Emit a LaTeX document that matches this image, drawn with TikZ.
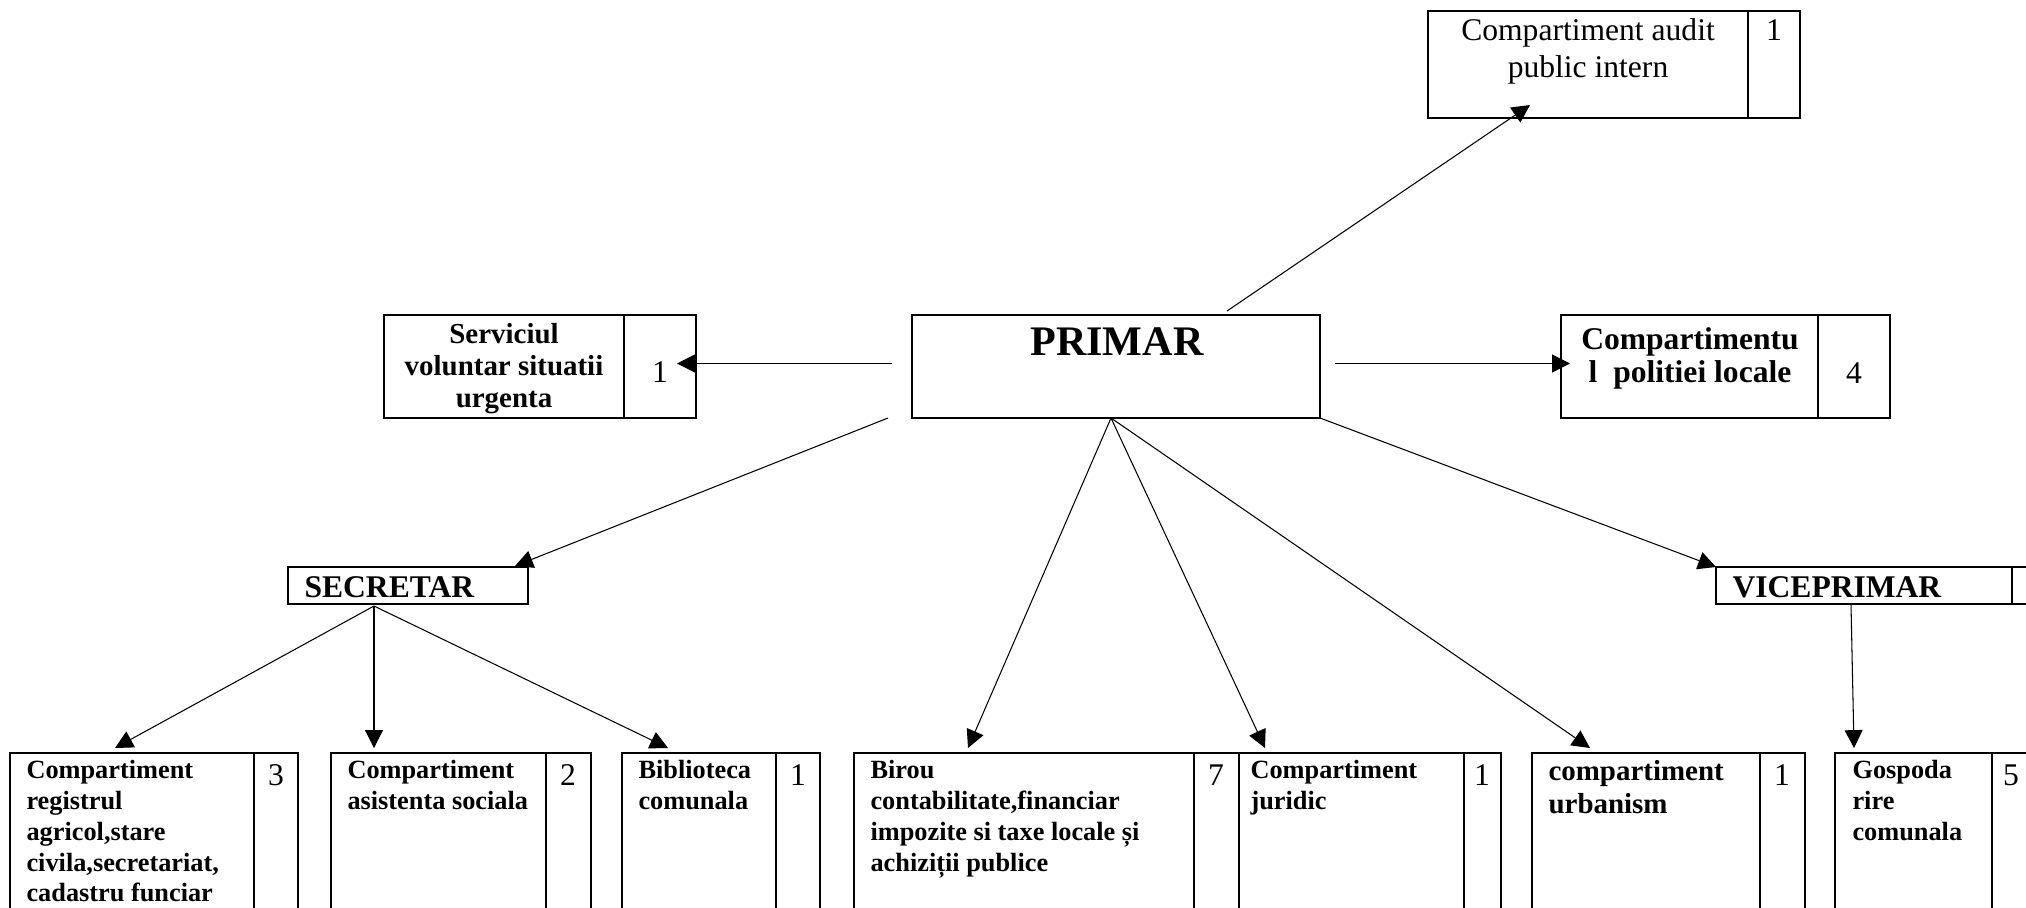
\documentclass[tikz,border=0pt]{standalone}
\usepackage{fontspec}
\setmainfont{Liberation Serif}
\usetikzlibrary{arrows.meta}
\tikzset{
	box/.style={draw, line width=0.5pt, inner sep=0pt, outer sep=0pt, anchor=north west},
	wh/.style 2 args={minimum width=#1*0.38pt, minimum height=#2*0.38pt},
	txt/.style={inner sep=0pt, font=\bfseries\fontsize{10}{11.7}\selectfont, align=left, anchor=north west},
	ctxt/.style={inner sep=0pt, align=center, anchor=north},
	nr/.style={inner sep=0pt, font=\fontsize{12}{14}\selectfont, anchor=base},
	head/.style={inner sep=0pt, font=\bfseries\fontsize{12}{14}\selectfont, anchor=base west},
	link/.style={-{Triangle[length=6.8pt,width=6.8pt]}, line width=0.4pt}
}

\begin{document}
\begin{tikzpicture}[x=0.38pt, y=-0.38pt]
	\useasboundingbox (0,0) rectangle (2026,907);
	\clip (0,0) rectangle (2026,907);

	% audit
	\node[box, wh={320}{107}] (audit) at (1428,11) {};
	\node[box, wh={52}{107}] (auditnr) at (1748,11) {};
	\node[ctxt, font=\fontsize{12}{14}\selectfont] (audittxt) at (1588,18) {Compartiment audit\\public intern};
	\node[nr] (auditn) at (1774,40) {1};

	% primar row
	\node[box, wh={240}{103}] (serv) at (384,315) {};
	\node[box, wh={72}{103}] (servnr) at (624,315) {};
	\node[ctxt, font=\bfseries\fontsize{11}{12.2}\selectfont] (servtxt) at (504,323) {Serviciul\\voluntar situatii\\urgenta};
	\node[nr] (servn) at (660,382) {1};

	\node[box, wh={408}{103}] (primar) at (912,315) {};
	\node[inner sep=0pt, font=\bfseries\fontsize{16}{19}\selectfont, anchor=base] (primartxt) at (1117,355) {PRIMAR};

	\node[box, wh={257}{103}] (politie) at (1561,315) {};
	\node[box, wh={72}{103}] (politienr) at (1818,315) {};
	\node[ctxt, font=\bfseries\fontsize{12}{12.6}\selectfont] (politietxt) at (1690,327) {Compartimentu\\l~~politiei locale};
	\node[nr] (politien) at (1854,383) {4};

	% secretar, viceprimar
	\node[box, wh={240}{37}] (secretar) at (288,567) {};
	\node[head] (secretartxt) at (304,597) {SECRETAR};
	\node[box, wh={296}{37}] (vice) at (1716,567) {};
	\node[box, wh={50}{37}] (vicenr) at (2012,567) {};
	\node[head] (vicetxt) at (1732,597) {VICEPRIMAR};

	% compartimente
	\node[box, wh={244}{170}] (regagr) at (10,753) {};
	\node[box, wh={44}{170}] (regagrnr) at (254,753) {};
	\node[txt] (regagrtxt) at (26,760) {Compartiment\\registrul\\agricol,stare\\civila,secretariat,\\cadastru funciar};
	\node[nr] (regagrn) at (276,785) {3};

	\node[box, wh={215}{170}] (asist) at (331,753) {};
	\node[box, wh={45}{170}] (asistnr) at (546,753) {};
	\node[txt] (asisttxt) at (347,760) {Compartiment\\asistenta sociala};
	\node[nr] (asistn) at (568,785) {2};

	\node[box, wh={154}{170}] (bibl) at (622,753) {};
	\node[box, wh={44}{170}] (biblnr) at (776,753) {};
	\node[txt] (bibltxt) at (638,760) {Biblioteca\\comunala};
	\node[nr] (bibln) at (798,785) {1};

	\node[box, wh={340}{170}] (birou) at (854,753) {};
	\node[box, wh={45}{170}] (birounr) at (1194,753) {};
	\node[txt] (biroutxt) at (870,760) {Birou\\contabilitate,financiar\\impozite si taxe locale și\\achiziții publice};
	\node[nr] (biroun) at (1216,785) {7};

	\node[box, wh={225}{170}] (juridic) at (1239,753) {};
	\node[box, wh={37}{170}] (juridicnr) at (1464,753) {};
	\node[txt] (juridictxt) at (1250,760) {Compartiment\\juridic};
	\node[nr] (juridicn) at (1482,785) {1};

	\node[box, wh={228}{170}] (urban) at (1532,753) {};
	\node[box, wh={45}{170}] (urbannr) at (1760,753) {};
	\node[txt, font=\bfseries\fontsize{11}{12.5}\selectfont] (urbantxt) at (1548,760) {compartiment\\urbanism};
	\node[nr] (urbann) at (1782,785) {1};

	\node[box, wh={157}{170}] (gosp) at (1835,753) {};
	\node[box, wh={39}{170}] (gospnr) at (1992,753) {};
	\node[txt, font=\bfseries\fontsize{10}{11.8}\selectfont] (gosptxt) at (1852,760) {Gospoda\\rire\\comunala};
	\node[nr] (gospn) at (2011,785) {5};

	% legaturi
	\draw[link] ([shift={(111,-4)}]primar.north) -- ([shift={(-58,-13)}]audit.south);
	\draw[link] ([shift={(-20,-3)}]primar.west) -- ([shift={(-19,-3)}]servnr.east);
	\draw[link] ([shift={(15,-3)}]primar.east) -- ([shift={(9,-3)}]politie.west);
	\draw[link] ([shift={(-24,0)}]primar.south west) -- ([shift={(-13,-1)}]secretar.north east);
	\draw[link] (primar.south east) -- (vice.north west);
	\foreach \dst/\dx in {birou/114, juridic/26, urban/58}
		\draw[link] ([shift={(-5,0)}]primar.south) -- ([shift={(\dx,-5)}]\dst.north west);
	\foreach \dst/\dx in {regagr/105, asist/43, bibl/46}
		\draw[link] ([shift={(-34,2)}]secretar.south) -- ([shift={(\dx,-5)}]\dst.north west);
	\draw[link] ([shift={(135,1)}]vice.south west) -- ([shift={(19,-5)}]gosp.north west);
\end{tikzpicture}
\end{document}
